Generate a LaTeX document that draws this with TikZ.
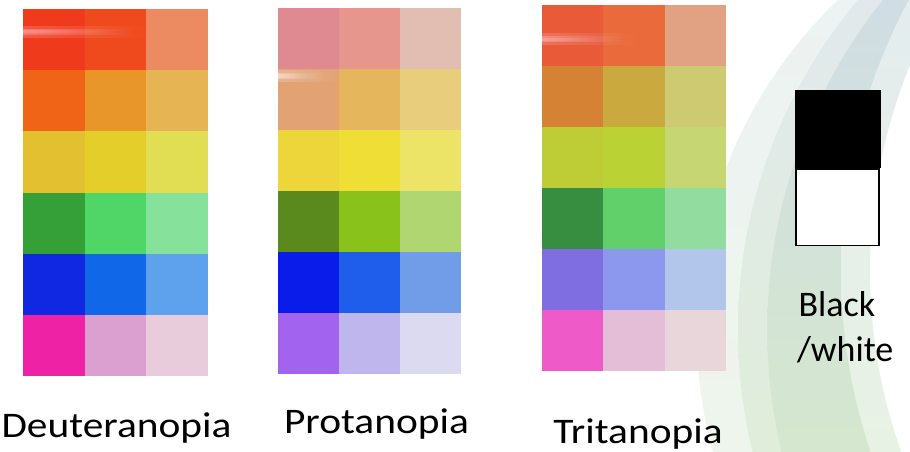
\documentclass[tikz,border=0pt]{standalone}
\usepackage{fontspec}
\setmainfont{Carlito}
\usetikzlibrary{fadings}

% Deuteranopia swatches
\definecolor{de11}{HTML}{F03A1C}\definecolor{de12}{HTML}{EE4A1E}\definecolor{de13}{HTML}{EC8A62}
\definecolor{de21}{HTML}{F06418}\definecolor{de22}{HTML}{E8962A}\definecolor{de23}{HTML}{E6B452}
\definecolor{de31}{HTML}{E2C030}\definecolor{de32}{HTML}{E4CE2A}\definecolor{de33}{HTML}{E2DE54}
\definecolor{de41}{HTML}{36A038}\definecolor{de42}{HTML}{50D666}\definecolor{de43}{HTML}{86E29A}
\definecolor{de51}{HTML}{1028E2}\definecolor{de52}{HTML}{1068E8}\definecolor{de53}{HTML}{5EA2EE}
\definecolor{de61}{HTML}{EE22A4}\definecolor{de62}{HTML}{DCA0D0}\definecolor{de63}{HTML}{E8CCDC}
% Protanopia swatches
\definecolor{pr11}{HTML}{DE8A90}\definecolor{pr12}{HTML}{E6968C}\definecolor{pr13}{HTML}{E2BEB2}
\definecolor{pr21}{HTML}{E2A274}\definecolor{pr22}{HTML}{E6B65C}\definecolor{pr23}{HTML}{E8CE7C}
\definecolor{pr31}{HTML}{ECD63A}\definecolor{pr32}{HTML}{EEDE36}\definecolor{pr33}{HTML}{ECE466}
\definecolor{pr41}{HTML}{5A8A1E}\definecolor{pr42}{HTML}{8AC21C}\definecolor{pr43}{HTML}{B0D672}
\definecolor{pr51}{HTML}{0A1CEA}\definecolor{pr52}{HTML}{1E5EEA}\definecolor{pr53}{HTML}{709CE8}
\definecolor{pr61}{HTML}{A264EE}\definecolor{pr62}{HTML}{C0B6EE}\definecolor{pr63}{HTML}{DCDAF0}
% Tritanopia swatches
\definecolor{tr11}{HTML}{E85A38}\definecolor{tr12}{HTML}{EA6A3C}\definecolor{tr13}{HTML}{E0A282}
\definecolor{tr21}{HTML}{D68234}\definecolor{tr22}{HTML}{CAAA3E}\definecolor{tr23}{HTML}{CECA72}
\definecolor{tr31}{HTML}{BECC36}\definecolor{tr32}{HTML}{BAD234}\definecolor{tr33}{HTML}{C6D672}
\definecolor{tr41}{HTML}{388E40}\definecolor{tr42}{HTML}{62D06A}\definecolor{tr43}{HTML}{92DCA0}
\definecolor{tr51}{HTML}{7E6EE2}\definecolor{tr52}{HTML}{8C98EE}\definecolor{tr53}{HTML}{B2C6EC}
\definecolor{tr61}{HTML}{EE5AC8}\definecolor{tr62}{HTML}{E4BED6}\definecolor{tr63}{HTML}{E8D6DA}
% background arc tints (top / bottom)
\definecolor{arcAt}{HTML}{EDF2F2}\definecolor{arcAb}{HTML}{EEF5EC}
\definecolor{arcBt}{HTML}{E1E9EC}\definecolor{arcBb}{HTML}{E0EDDA}
\definecolor{arcCt}{HTML}{D0DDE4}\definecolor{arcCb}{HTML}{D5E7CE}
\definecolor{arcDt}{HTML}{E4ECEE}\definecolor{arcDb}{HTML}{E8F2E4}
\definecolor{glarepink}{HTML}{FFD6E4}

\tikzfading[name=streakfade, left color=transparent!20, right color=transparent!100]

% 3 x 6 swatch grid: x0, y0 (downwards), column width, row height, colour prefix
\newcommand\swatchgrid[5]{%
  \foreach \ri in {1,...,6}{%
    \foreach \ci in {1,...,3}{%
      \fill[fill=#5\ri\ci]
        ({#1+(\ci-1)*#3},{-(#2+(\ri-1)*#4)}) rectangle
        ({#1+\ci*#3+0.3},{-(#2+\ri*#4+0.3)});
    }%
  }%
}
% one tinted arc band: centre x, centre y, radius, top colour, bottom colour
\newcommand\arcband[5]{%
  \begin{scope}
    \clip (#1,#2) circle (#3);
    \shade[top color=#4, bottom color=#5] (560,0) rectangle (910,-452);
  \end{scope}%
}
% soft glare streak: left x, right x, centre y, colour
\newcommand\glarestreak[4]{%
  \fill[#4, opacity=0.25, path fading=streakfade] (#1,{#3+6}) rectangle (#2,{#3-6});
  \fill[#4, opacity=0.35, path fading=streakfade] (#1,{#3+3}) rectangle ({#2-15},{#3-3});
  \fill[#4, opacity=0.3, path fading=streakfade] (#1,{#3+1.5}) rectangle ({#2-35},{#3-1.5});
}

\tikzset{
  label/.style={inner sep=0pt, outer sep=0pt, text=black,
    font=\fontsize{36}{43}\selectfont},
}

\begin{document}
\begin{tikzpicture}[x=1pt,y=1pt]
\useasboundingbox (0,0) rectangle (910,-452);
\fill[white] (0,0) rectangle (910,-452);

% curved background bands
\begin{scope}
  \clip (0,0) rectangle (910,-452);
  \arcband{1152}{-330}{455.5}{arcAt}{arcAb}
  \arcband{1252}{-330}{514}{arcBt}{arcBb}
  \arcband{1296}{-330}{528.7}{arcCt}{arcCb}
  \arcband{1411}{-270}{570}{arcDt}{arcDb}
  \fill[white] (1411,-270) circle (541);
\end{scope}

% swatch grids
\swatchgrid{23}{9}{61.67}{61.17}{de}
\swatchgrid{278}{8}{61}{61}{pr}
\swatchgrid{542}{5}{61.33}{61}{tr}

% glare streaks on the screens
\glarestreak{23}{150}{-32}{glarepink}
\glarestreak{278}{340}{-76}{white}
\glarestreak{542}{640}{-39.5}{glarepink}

% black / white sample
\node[fill=black, inner sep=0pt, outer sep=0pt, minimum width=86pt,
      minimum height=78pt, anchor=north west] (blackpatch) at (795,-90) {};
\node[draw=black, line width=1.6pt, fill=white, inner sep=0pt, outer sep=0pt,
      minimum width=83pt, minimum height=76.5pt, anchor=north west]
      (whitepatch) at (796,-168.8) {};

% labels
\node[label, anchor=base] (deut) at (116.5,-437) {\scalebox{1.15}[1]{Deuteranopia}};
\node[label, anchor=base] (prot) at (376.5,-433) {\scalebox{1.15}[1]{Protanopia}};
\node[label, anchor=base] (trit) at (638,-443) {\scalebox{1.15}[1]{Tritanopia}};
\node[label, anchor=base west] (bw1) at (798.5,-316) {Black};
\node[label, anchor=base west] (bw2) at (797,-361) {/white};
\end{tikzpicture}
\end{document}
